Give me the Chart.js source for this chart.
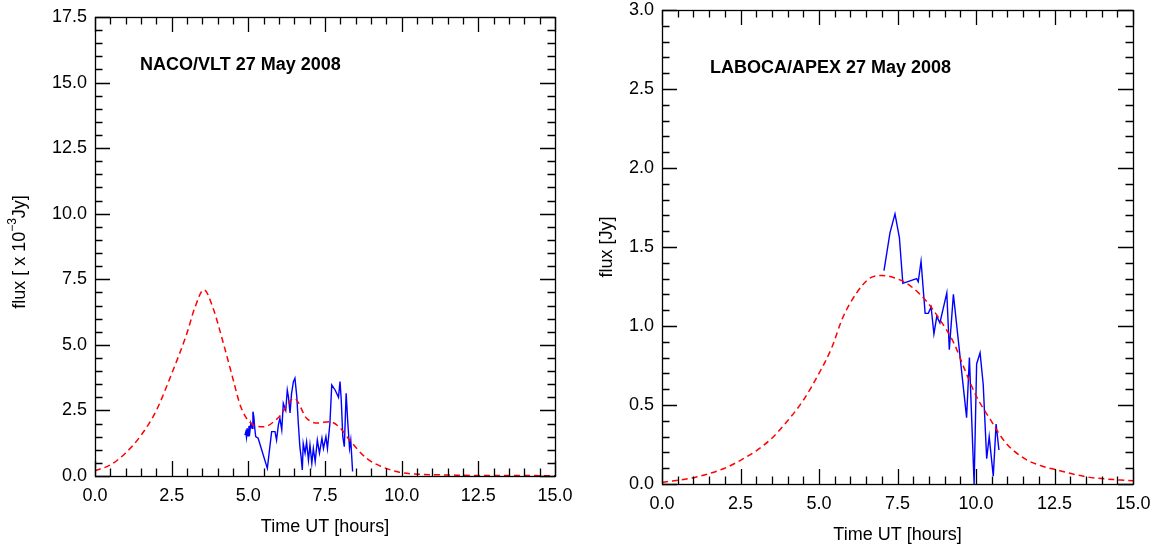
<!DOCTYPE html>
<html>
<head>
<meta charset="utf-8">
<script src="https://cdn.jsdelivr.net/npm/chart.js@4.4.1/dist/chart.umd.min.js"></script>
<style>
  html, body { margin: 0; padding: 0; background: #fff; }
  #wrap { position: relative; width: 1163px; height: 548px; overflow: hidden; }
  #naco { position: absolute; left: 0; top: 0; }
  #laboca { position: absolute; left: 580px; top: 0; }
</style>
</head>
<body>
<div id="wrap">
  <canvas id="naco" width="580" height="548"></canvas>
  <canvas id="laboca" width="583" height="548"></canvas>
</div>
<script>
// NACO/VLT (left panel), flux in 1e-3 Jy
const nacoModelTime = [0, 0.5, 1, 1.5, 2, 2.5, 3, 3.25, 3.55, 3.85, 4.2, 4.5, 4.75, 5.05, 5.5, 6.0, 6.5, 6.9, 7.25, 7.65, 8.0, 8.3, 8.85, 9.3, 9.9, 10.5, 11.5, 12.5, 13.5, 15];
const nacoModelFlux = [0.2, 0.42, 0.88, 1.55, 2.5, 3.9, 5.45, 6.4, 7.1, 6.4, 5.0, 3.7, 2.65, 2.05, 1.88, 2.25, 2.96, 2.2, 2.02, 2.07, 1.83, 1.37, 0.68, 0.38, 0.15, 0.07, 0.04, 0.02, 0.02, 0.01];

const nacoObsTime = [4.89, 4.92, 4.94, 4.97, 4.99, 5.02, 5.05, 5.08, 5.12, 5.15, 5.18, 5.21, 5.24, 5.32, 5.62, 5.76, 5.87, 5.92, 5.98, 6.03, 6.09, 6.14, 6.22, 6.27, 6.31, 6.36, 6.41, 6.47, 6.52, 6.58, 6.63, 6.68, 6.72, 6.76, 6.79, 6.85, 6.9, 6.96, 7.01, 7.07, 7.12, 7.18, 7.25, 7.32, 7.4, 7.45, 7.53, 7.58, 7.66, 7.72, 7.83, 7.94, 7.99, 8.03, 8.08, 8.13, 8.19, 8.24, 8.3, 8.34, 8.4];
const nacoObsFlux = [1.56, 1.69, 1.48, 1.82, 1.53, 1.91, 1.69, 2.01, 1.82, 2.45, 2.26, 1.82, 1.5, 1.44, 0.29, 1.69, 1.69, 1.37, 1.95, 2.2, 1.76, 2.77, 2.5, 3.28, 3.0, 2.4, 3.15, 3.6, 3.73, 3.03, 2.0, 1.12, 0.74, 0.23, 1.24, 0.87, 1.3, 0.6, 1.18, 0.48, 1.05, 0.55, 1.37, 0.87, 1.44, 1.05, 1.5, 1.05, 2.0, 3.47, 3.28, 3.0, 3.6, 2.9, 1.5, 1.12, 3.15, 2.1, 1.05, 1.37, 0.17];

// LABOCA/APEX (right panel), flux in Jy
const labocaModelTime = [0, 1, 2, 2.5, 3, 3.5, 4, 4.5, 5, 5.4, 5.75, 6.2, 6.6, 7.0, 7.6, 8, 8.45, 8.85, 9.3, 9.65, 10, 10.45, 10.95, 11.55, 12, 12.55, 13.5, 14.6, 15];
const labocaModelFlux = [0.01, 0.04, 0.1, 0.15, 0.21, 0.29, 0.4, 0.53, 0.7, 0.86, 1.05, 1.21, 1.3, 1.32, 1.29, 1.24, 1.15, 1.04, 0.89, 0.72, 0.56, 0.41, 0.26, 0.16, 0.12, 0.09, 0.046, 0.025, 0.02];

const labocaObsTime = [7.07, 7.26, 7.42, 7.56, 7.67, 8.11, 8.16, 8.25, 8.38, 8.48, 8.57, 8.66, 8.75, 8.85, 9.07, 9.15, 9.28, 9.7, 9.79, 9.94, 10.02, 10.13, 10.23, 10.34, 10.42, 10.55, 10.64, 10.73];
const labocaObsFlux = [1.35, 1.59, 1.71, 1.56, 1.27, 1.3, 1.28, 1.41, 1.08, 1.08, 1.12, 0.95, 1.06, 1.02, 1.21, 0.85, 1.2, 0.42, 0.8, 0.0, 0.76, 0.83, 0.63, 0.16, 0.3, 0.05, 0.38, 0.215];

const FONT = '"Liberation Sans", Arial, Helvetica, sans-serif';

Chart.defaults.color = '#000';
Chart.defaults.font.family = FONT;

function toPoints(xs, ys) {
  return xs.map((x, i) => ({ x: x, y: ys[i] }));
}

function isMajor(value, step) {
  const r = value / step;
  return Math.abs(r - Math.round(r)) < 1e-6;
}

// box round the plot, with inward ticks on all four sides
const frameTicks = {
  id: 'frameTicks',
  afterDatasetsDraw(chart, args, opts) {
    const { ctx, chartArea: a, scales } = chart;
    ctx.save();
    ctx.strokeStyle = '#000';
    ctx.lineWidth = 1.3;
    ctx.beginPath();
    scales.x.ticks.forEach((t) => {
      const px = Math.round(scales.x.getPixelForValue(t.value)) + 0.5;
      const len = isMajor(t.value, opts.xMajor) ? 15 : 7.5;
      ctx.moveTo(px, a.bottom); ctx.lineTo(px, a.bottom - len);
      ctx.moveTo(px, a.top); ctx.lineTo(px, a.top + len);
    });
    scales.y.ticks.forEach((t) => {
      const py = Math.round(scales.y.getPixelForValue(t.value)) + 0.5;
      const len = isMajor(t.value, opts.yMajor) ? 15 : 7.5;
      ctx.moveTo(a.left, py); ctx.lineTo(a.left + len, py);
      ctx.moveTo(a.right, py); ctx.lineTo(a.right - len, py);
    });
    ctx.stroke();
    ctx.strokeRect(a.left + 0.5, a.top + 0.5, a.right - a.left, a.bottom - a.top);
    ctx.restore();
  },
  afterDraw(chart, args, opts) {
    const { ctx, chartArea: a } = chart;
    ctx.save();
    ctx.fillStyle = '#000';
    // panel label
    ctx.font = 'bold 18px ' + FONT;
    ctx.textBaseline = 'middle';
    ctx.textAlign = 'left';
    ctx.fillText(opts.label, a.left + opts.labelDx, a.top + opts.labelDy);
    // x title
    ctx.font = '18px ' + FONT;
    ctx.textAlign = 'center';
    ctx.fillText('Time UT [hours]', (a.left + a.right) / 2, opts.xTitleY);
    // y title, rotated, with optional superscript part
    ctx.translate(opts.yTitleX, opts.yTitleY);
    ctx.rotate(-Math.PI / 2);
    const parts = opts.yTitle;
    let total = 0;
    parts.forEach((p) => {
      ctx.font = (p.sup ? '12px ' : '18px ') + FONT;
      total += ctx.measureText(p.text).width;
    });
    let cx = -total / 2;
    ctx.textAlign = 'left';
    parts.forEach((p) => {
      ctx.font = (p.sup ? '12px ' : '18px ') + FONT;
      ctx.fillText(p.text, cx, p.sup ? -7 : 0);
      cx += ctx.measureText(p.text).width;
    });
    ctx.restore();
  },
};

function makeChart(canvas, cfg) {
  return new Chart(canvas, {
    type: 'line',
    data: {
      datasets: [
        {
          data: toPoints(cfg.modelTime, cfg.modelFlux),
          borderColor: 'rgb(255, 0, 0)',
          borderWidth: 1.5,
          borderDash: [6, 4],
          pointRadius: 0,
          cubicInterpolationMode: 'monotone',
        },
        {
          data: toPoints(cfg.obsTime, cfg.obsFlux),
          borderColor: 'rgb(0, 0, 255)',
          borderWidth: 1.4,
          pointRadius: 0,
          tension: 0,
        },
      ],
    },
    options: {
      responsive: false,
      animation: false,
      events: [],
      layout: { padding: { top: cfg.padTop, right: cfg.padRight, left: 0, bottom: 0 } },
      plugins: {
        legend: { display: false },
        tooltip: { enabled: false },
        frameTicks: cfg.frame,
      },
      scales: {
        x: {
          type: 'linear',
          min: 0,
          max: 15,
          grid: { display: false, drawTicks: false },
          border: { display: false },
          ticks: {
            stepSize: 0.5,
            autoSkip: false,
            maxRotation: 0,
            padding: 9,
            font: { size: 18 },
            callback: (value) => (isMajor(value, 2.5) ? value.toFixed(1) : ''),
          },
          afterFit: (scale) => {
            scale.height = cfg.xHeight;
            scale.paddingLeft = 0;
            scale.paddingRight = 0;
          },
        },
        y: {
          type: 'linear',
          min: 0,
          max: cfg.yMax,
          grid: { display: false, drawTicks: false },
          border: { display: false },
          ticks: {
            stepSize: cfg.yMinor,
            autoSkip: false,
            padding: 8,
            font: { size: 18 },
            callback: (value) => (isMajor(value, cfg.yMajor) ? value.toFixed(1) : ''),
          },
          afterFit: (scale) => {
            scale.width = cfg.yWidth;
            scale.paddingTop = 0;
            scale.paddingBottom = 0;
          },
        },
      },
    },
    plugins: [frameTicks],
  });
}

makeChart(document.getElementById('naco'), {
  modelTime: nacoModelTime,
  modelFlux: nacoModelFlux,
  obsTime: nacoObsTime,
  obsFlux: nacoObsFlux,
  yMax: 17.5,
  yMinor: 0.5,
  yMajor: 2.5,
  padTop: 17,
  padRight: 25,
  xHeight: 72,
  yWidth: 95,
  frame: {
    xMajor: 2.5,
    yMajor: 2.5,
    label: 'NACO/VLT 27 May 2008',
    labelDx: 45,
    labelDy: 48,
    xTitleY: 527,
    yTitleX: 20,
    yTitleY: 252,
    yTitle: [{ text: 'flux [ x 10' }, { text: '\u22123', sup: true }, { text: 'Jy]' }],
  },
});

makeChart(document.getElementById('laboca'), {
  modelTime: labocaModelTime,
  modelFlux: labocaModelFlux,
  obsTime: labocaObsTime,
  obsFlux: labocaObsFlux,
  yMax: 3.0,
  yMinor: 0.1,
  yMajor: 0.5,
  padTop: 10,
  padRight: 30,
  xHeight: 64,
  yWidth: 82,
  frame: {
    xMajor: 2.5,
    yMajor: 0.5,
    label: 'LABOCA/APEX 27 May 2008',
    labelDx: 48,
    labelDy: 58,
    xTitleY: 535,
    yTitleX: 27,
    yTitleY: 247,
    yTitle: [{ text: 'flux [Jy]' }],
  },
});
</script>
</body>
</html>
